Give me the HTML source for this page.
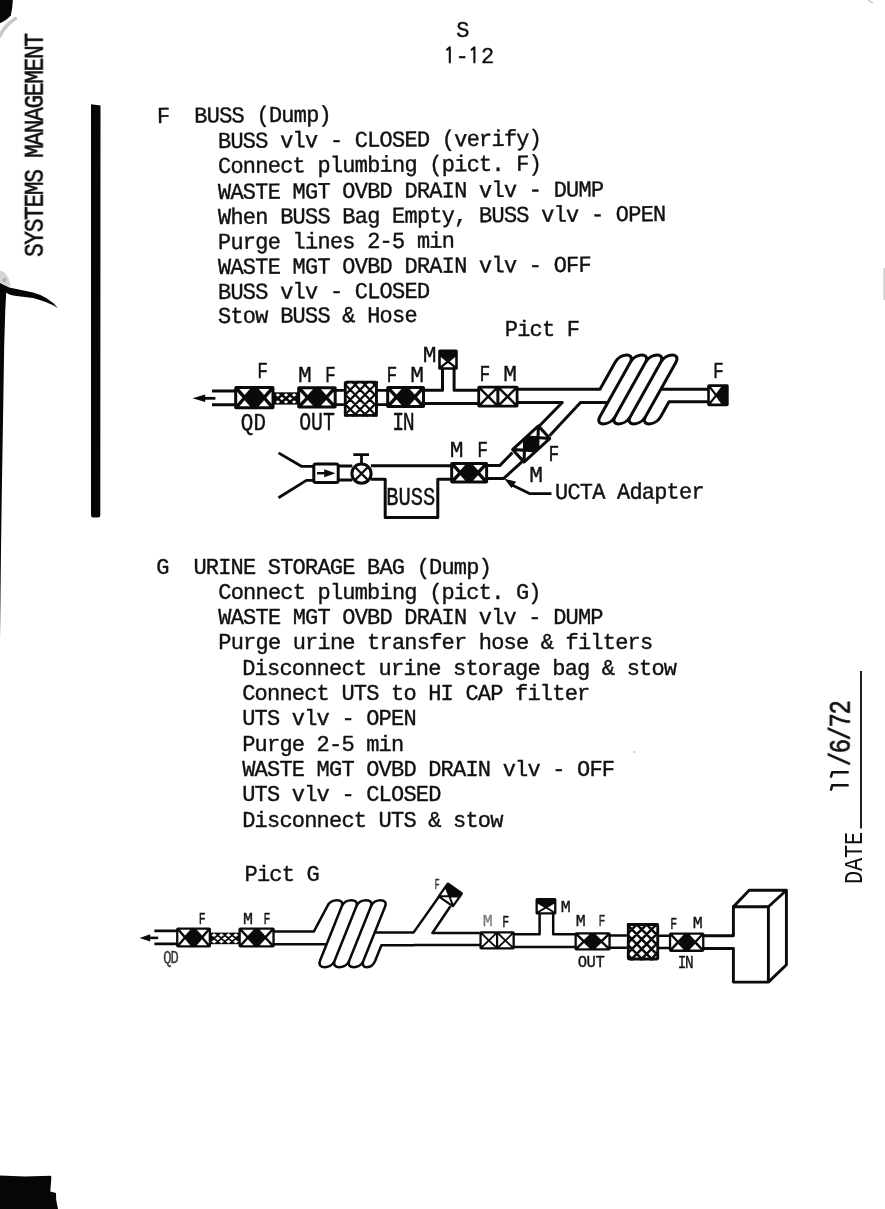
<!DOCTYPE html>
<html>
<head>
<meta charset="utf-8">
<title>S 1-12</title>
<style>
html,body{margin:0;padding:0;background:#fff;}
body{width:885px;height:1209px;position:relative;overflow:hidden;font-family:"Liberation Mono",monospace;color:#111;}
.t{position:absolute;white-space:pre;font-family:"Liberation Mono",monospace;font-size:22px;letter-spacing:-0.8px;line-height:25px;height:25px;color:#111;-webkit-text-stroke:0.38px #111;transform-origin:0 18.3px;transform:scaleY(1.04);}
.v{will-change:transform;position:absolute;white-space:pre;font-family:"Liberation Mono",monospace;transform-origin:0 0;transform:rotate(-90deg);color:#111;}
svg{position:absolute;left:0;top:0;will-change:transform;}
.lb{font-family:"Liberation Mono",monospace;fill:#111;stroke:#111;stroke-width:0.35px;}
</style>
</head>
<body>

<div id="txt" style="position:absolute;left:0;top:0;width:885px;height:1209px;will-change:transform;">
<!-- page header -->
<div class="t" style="left:456.3px;top:19.3px;">S</div>
<div class="t" style="left:442.8px;top:44.9px;letter-spacing:-0.5px;"> - 2</div>

<!-- section F -->
<div class="t" style="left:157.2px;top:104.5px;letter-spacing:-0.77px;transform:rotate(-0.46deg) scaleY(1.04);">F  BUSS (Dump)</div>
<div class="t" style="left:218.3px;top:129.7px;letter-spacing:-0.77px;transform:rotate(-0.44deg) scaleY(1.04);">BUSS vlv - CLOSED (verify)</div>
<div class="t" style="left:218.3px;top:154.5px;letter-spacing:-0.77px;transform:rotate(-0.42deg) scaleY(1.04);">Connect plumbing (pict. F)</div>
<div class="t" style="left:218.3px;top:180.9px;letter-spacing:-0.77px;transform:rotate(-0.40deg) scaleY(1.04);">WASTE MGT OVBD DRAIN vlv - DUMP</div>
<div class="t" style="left:218.3px;top:206.0px;letter-spacing:-0.77px;transform:rotate(-0.38deg) scaleY(1.04);">When BUSS Bag Empty, BUSS vlv - OPEN</div>
<div class="t" style="left:218.3px;top:230.5px;letter-spacing:-0.77px;transform:rotate(-0.36deg) scaleY(1.04);">Purge lines 2-5 min</div>
<div class="t" style="left:218.3px;top:255.7px;letter-spacing:-0.77px;transform:rotate(-0.34deg) scaleY(1.04);">WASTE MGT OVBD DRAIN vlv - OFF</div>
<div class="t" style="left:218.3px;top:280.5px;letter-spacing:-0.77px;transform:rotate(-0.32deg) scaleY(1.04);">BUSS vlv - CLOSED</div>
<div class="t" style="left:218.3px;top:305.2px;letter-spacing:-0.77px;transform:rotate(-0.30deg) scaleY(1.04);">Stow BUSS &amp; Hose</div>
<div class="t" style="left:504.8px;top:317.9px;">Pict F</div>
<div class="t" style="left:555.3px;top:481.0px;transform:rotate(-0.2deg) scaleY(1.04);">UCTA Adapter</div>

<!-- section G -->
<div class="t" style="left:156.2px;top:555.5px;">G  URINE STORAGE BAG (Dump)</div>
<div class="t" style="left:218.3px;top:580.8px;">Connect plumbing (pict. G)</div>
<div class="t" style="left:218.3px;top:606.1px;">WASTE MGT OVBD DRAIN vlv - DUMP</div>
<div class="t" style="left:218.3px;top:631.4px;">Purge urine transfer hose &amp; filters</div>
<div class="t" style="left:242.2px;top:656.7px;">Disconnect urine storage bag &amp; stow</div>
<div class="t" style="left:242.2px;top:682.0px;">Connect UTS to HI CAP filter</div>
<div class="t" style="left:242.2px;top:707.3px;">UTS vlv - OPEN</div>
<div class="t" style="left:242.2px;top:732.6px;">Purge 2-5 min</div>
<div class="t" style="left:242.2px;top:757.9px;">WASTE MGT OVBD DRAIN vlv - OFF</div>
<div class="t" style="left:242.2px;top:783.2px;">UTS vlv - CLOSED</div>
<div class="t" style="left:242.2px;top:808.5px;">Disconnect UTS &amp; stow</div>
<div class="t" style="left:244.5px;top:862.6px;">Pict G</div>

<!-- rotated margin text -->
<div class="v" style="left:20.6px;top:256.6px;font-size:23px;letter-spacing:-1.43px;line-height:25px;-webkit-text-stroke:0.45px #111;transform:rotate(-90deg) scaleY(1.19);">SYSTEMS MANAGEMENT</div>
<div class="v" style="left:840.7px;top:883.7px;font-size:22px;letter-spacing:-0.2px;line-height:25px;transform:rotate(-90deg) scaleY(1.16);">DATE</div>
<div class="v" style="left:827.4px;top:792.3px;font-size:24px;letter-spacing:-1.5px;line-height:26px;-webkit-text-stroke:0.55px #111;transform:rotate(-90deg) scaleY(1.21);">  /6/72</div>
</div>

<svg width="885" height="1209" viewBox="0 0 885 1209">
  <!-- scan artifacts -->
  <g id="artifacts" fill="#060606" stroke="none">
    <path d="M0,0 L12.8,0 L12.2,8 L10.8,15.5 Q7,20 0,23.2 Z"/>
    <path d="M15.5,18.5 Q5,25 0,36" fill="none" stroke="#c9c9c9" stroke-width="3.5" stroke-linecap="round"/>
    <path d="M0,270.5 L4,272 Q9,276 11,287 L6,286 L0,283 Z" fill="#d6d6d6"/>
    <circle cx="4.5" cy="280" r="2.2" fill="#b5b5b5"/>
    <path d="M868,0 L873,3" fill="none" stroke="#d0d0d0" stroke-width="1.6"/>
    <rect x="883.2" y="268" width="1.8" height="32" fill="#d2d2d2"/>
    <circle cx="634.5" cy="752" r="0.9" fill="#bdbdbd"/>
    <path d="M91,104.2 L100.5,105.6 L100.3,515 Q100.3,517.5 98,517.5 L93,517.5 Q91,517.5 91,515 Z"/>
    <path d="M0,283 L6,286 Q10,288 14,288.5 L33,292.6 Q48,296.5 57.9,307.9 Q47,301.5 33,298 L16.5,296 Q9,295 6.2,292.5 L5.3,310 L4.2,345 L3,420 L2,480 L1,550 L0,640 Z"/>
    <path d="M0,1175.6 L25,1176.6 L50.5,1175.8 Q51.6,1176 51.3,1178 L50.3,1191.5 L56,1193 L56.2,1200 L58,1209 L0,1209 Z"/>
    <rect x="860.1" y="671" width="1.8" height="157.5"/>
    <path d="M847.7,785.3 L832.2,785.3 L831,789.6 M847.7,772.3 L832.2,772.3 L831,776.6" fill="none" stroke="#111" stroke-width="2.5" stroke-linejoin="round" stroke-linecap="round"/>
      <path d="M449.8,63.2 V47.4 L446.4,50.2 M474.4,63.2 V47.4 L471,50.2" fill="none" stroke="#111" stroke-width="2.1" stroke-linejoin="round" stroke-linecap="butt"/>
  </g>



















<!--DIAGSTART-->
<g id="diagF">
<polygon points="192.4,398.3 205.2,394.4 205.2,402" fill="#0a0a0a"/>
<path d="M204,398.3 H215.4" fill="none" stroke="#0a0a0a" stroke-width="2.8" stroke-linejoin="round" stroke-linecap="butt" />
<path d="M212,391 H235 M212,404.7 H235" fill="none" stroke="#0a0a0a" stroke-width="2.9" stroke-linejoin="round" stroke-linecap="butt" />
<rect x="234.2" y="386.1" width="40.3" height="23.2" rx="1.8" fill="#0a0a0a"/>
<polygon points="239.4,389.1 249.9,389.1 244.6,395.1" fill="#fff"/>
<polygon points="239.4,406.3 249.9,406.3 244.6,400.3" fill="#fff"/>
<polygon points="237.2,391.7 237.2,403.7 242.4,397.7" fill="#fff"/>
<polygon points="258.8,389.1 269.3,389.1 264.1,395.1" fill="#fff"/>
<polygon points="258.8,406.3 269.3,406.3 264.1,400.3" fill="#fff"/>
<polygon points="271.5,391.7 271.5,403.7 266.3,397.7" fill="#fff"/>
<rect x="274" y="392.3" width="24" height="12.3" fill="#0a0a0a"/>
<polygon points="275.7,395 277.9,393.3 280.1,395 277.9,396.7" fill="#fff"/>
<polygon points="275.7,401.9 277.9,400.2 280.1,401.9 277.9,403.6" fill="#fff"/>
<polygon points="283.8,395 286,393.3 288.2,395 286,396.7" fill="#fff"/>
<polygon points="283.8,401.9 286,400.2 288.2,401.9 286,403.6" fill="#fff"/>
<polygon points="291.9,395 294.1,393.3 296.3,395 294.1,396.7" fill="#fff"/>
<polygon points="291.9,401.9 294.1,400.2 296.3,401.9 294.1,403.6" fill="#fff"/>
<polygon points="279.8,398.5 281.9,396.8 284.1,398.5 281.9,400.2" fill="#fff"/>
<polygon points="287.9,398.5 290.1,396.8 292.2,398.5 290.1,400.2" fill="#fff"/>
<rect x="297.2" y="386.2" width="39.5" height="22.4" rx="1.8" fill="#0a0a0a"/>
<polygon points="302.5,389.2 312.9,389.2 307.7,394.9" fill="#fff"/>
<polygon points="302.5,405.6 312.9,405.6 307.7,399.9" fill="#fff"/>
<polygon points="300.2,391.7 300.2,403.1 305.4,397.4" fill="#fff"/>
<polygon points="321,389.2 331.4,389.2 326.2,394.9" fill="#fff"/>
<polygon points="321,405.6 331.4,405.6 326.2,399.9" fill="#fff"/>
<polygon points="333.7,391.7 333.7,403.1 328.5,397.4" fill="#fff"/>
<path d="M336,390.3 H344.5 M336,404.6 H344.5" fill="none" stroke="#0a0a0a" stroke-width="2.7" stroke-linejoin="round" stroke-linecap="butt" />
<clipPath id="hf"><rect x="343.9" y="380.8" width="33.9" height="36"/></clipPath>
<rect x="343.9" y="380.8" width="33.9" height="36" fill="#fff"/>
<path d="M292.3,380.8 l36,36 M302.1,380.8 l36,36 M311.9,380.8 l36,36 M321.7,380.8 l36,36 M331.5,380.8 l36,36 M341.3,380.8 l36,36 M351.1,380.8 l36,36 M360.9,380.8 l36,36 M370.7,380.8 l36,36 M380.5,380.8 l36,36 M293.9,416.8 l36,-36 M303.7,416.8 l36,-36 M313.5,416.8 l36,-36 M323.3,416.8 l36,-36 M333.1,416.8 l36,-36 M342.9,416.8 l36,-36 M352.7,416.8 l36,-36 M362.5,416.8 l36,-36 M372.3,416.8 l36,-36 M382.1,416.8 l36,-36" stroke="#0a0a0a" stroke-width="2.2" fill="none" clip-path="url(#hf)"/>
<rect x="345.3" y="382.2" width="31.1" height="33.2" rx="1.2" fill="none" stroke="#0a0a0a" stroke-width="2.8"/>
<path d="M377,390.3 H387 M377,404.6 H387" fill="none" stroke="#0a0a0a" stroke-width="2.7" stroke-linejoin="round" stroke-linecap="butt" />
<rect x="386.2" y="386.1" width="38.8" height="21.9" rx="1.8" fill="#0a0a0a"/>
<polygon points="391.5,389.1 401.5,389.1 396.5,394.5" fill="#fff"/>
<polygon points="391.5,405 401.5,405 396.5,399.6" fill="#fff"/>
<polygon points="389.2,391.6 389.2,402.5 394.2,397.1" fill="#fff"/>
<polygon points="409.7,389.1 419.7,389.1 414.7,394.5" fill="#fff"/>
<polygon points="409.7,405 419.7,405 414.7,399.6" fill="#fff"/>
<polygon points="422,391.6 422,402.5 417,397.1" fill="#fff"/>
<path d="M424,390.2 H442.5 V369 M454.1,369 V390.2 H478 M424,403.6 H478" fill="none" stroke="#0a0a0a" stroke-width="3" stroke-linejoin="round" stroke-linecap="butt" />
<rect x="438.2" y="349.5" width="19.6" height="20.3" rx="1.6" fill="#0a0a0a"/>
<polygon points="442.6,367.2 453.4,367.2 448,362.9" fill="#fff"/>
<polygon points="440.8,357.1 440.8,365.8 446.2,361.5" fill="#fff"/>
<polygon points="455.2,357.1 455.2,365.8 449.8,361.5" fill="#fff"/>
<rect x="477.3" y="385.8" width="41.2" height="21.7" rx="1.8" fill="#0a0a0a"/>
<polygon points="481.8,388.6 494.7,388.6 488.2,395" fill="#fff"/>
<polygon points="481.8,404.7 494.7,404.7 488.2,398.3" fill="#fff"/>
<polygon points="480.1,390.3 480.1,403 486.5,396.6" fill="#fff"/>
<polygon points="496.4,390.3 496.4,403 490,396.6" fill="#fff"/>
<polygon points="501.1,388.6 514,388.6 507.6,395" fill="#fff"/>
<polygon points="501.1,404.7 514,404.7 507.6,398.3" fill="#fff"/>
<polygon points="499.4,390.3 499.4,403 505.8,396.6" fill="#fff"/>
<polygon points="515.7,390.3 515.7,403 509.3,396.6" fill="#fff"/>
<path d="M518,389.2 L600,389.2 L615,362.4 C620.5,352.6 635.7,352.6 630.2,362.4 L600,416.4 M630.2,362.4 C635.7,352.6 650.9,352.6 645.4,362.4 L615.2,416.4 M645.4,362.4 C650.9,352.6 666.1,352.6 660.6,362.4 L630.4,416.4 M660.6,362.4 C666.1,352.6 681.3,352.6 675.8,362.4 L645.6,416.4 M615.2,416.4 C609.6,426.4 594.4,426.4 600,416.4 M630.4,416.4 C624.8,426.4 609.6,426.4 615.2,416.4 M645.6,416.4 C640,426.4 624.8,426.4 630.4,416.4 M660.8,416.4 C655.2,426.4 640,426.4 645.6,416.4 M660.8,416.4 L669,401.7 L708,401.7 M660.7,389.3 L708,389.3 M518,402.4 L607.8,402.4" fill="none" stroke="#0a0a0a" stroke-width="3.0" stroke-linejoin="round" stroke-linecap="butt" />
<rect x="562.3" y="400" width="18.2" height="5" fill="#fff"/>
<path d="M560,402.5 H562.3 L538.3,427 M549.6,435.8 L580.5,402.4 H583" fill="none" stroke="#0a0a0a" stroke-width="3" stroke-linejoin="round" stroke-linecap="butt" />
<rect x="707.2" y="384.3" width="21.5" height="21.9" rx="1.6" fill="#0a0a0a"/>
<polygon points="711.2,386.9 721.1,386.9 716.2,393.4" fill="#fff"/>
<polygon points="711.2,403.6 721.1,403.6 716.2,397.1" fill="#fff"/>
<polygon points="709.8,388.7 709.8,401.8 714.8,395.2" fill="#fff"/>
<g transform="rotate(-42.5 531.2 444.0)">
<rect x="512.2" y="434" width="38" height="20" rx="1.8" fill="#0a0a0a"/>
<polygon points="517.3,437 526.6,437 522,441.8" fill="#fff"/>
<polygon points="517.3,451 526.6,451 522,446.2" fill="#fff"/>
<polygon points="515.2,439.2 515.2,448.8 519.9,444" fill="#fff"/>
<polygon points="535.8,437 545.1,437 540.5,441.8" fill="#fff"/>
<polygon points="535.8,451 545.1,451 540.5,446.2" fill="#fff"/>
<polygon points="547.2,439.2 547.2,448.8 542.5,444" fill="#fff"/>
</g>
<path d="M487.5,465.6 H499.7 L512.4,452.6 M487.5,478.4 H503.7 L522.4,461.4" fill="none" stroke="#0a0a0a" stroke-width="3" stroke-linejoin="round" stroke-linecap="butt" />
<rect x="450.2" y="461.9" width="37.9" height="21.7" rx="1.8" fill="#0a0a0a"/>
<polygon points="455.5,464.9 465.1,464.9 460.3,470.2" fill="#fff"/>
<polygon points="455.5,480.6 465.1,480.6 460.3,475.3" fill="#fff"/>
<polygon points="453.2,467.4 453.2,478.1 458,472.8" fill="#fff"/>
<polygon points="473.2,464.9 482.8,464.9 478,470.2" fill="#fff"/>
<polygon points="473.2,480.6 482.8,480.6 478,475.3" fill="#fff"/>
<polygon points="485.1,467.4 485.1,478.1 480.3,472.8" fill="#fff"/>
<path d="M371,465.7 H451 M371,479.3 H385.2 V517.4 H437.8 V479.3 H451" fill="none" stroke="#0a0a0a" stroke-width="3" stroke-linejoin="round" stroke-linecap="butt" />
<circle cx="361.5" cy="473.6" r="9.6" fill="#fff" stroke="#0a0a0a" stroke-width="3"/>
<path d="M355.2,467.3 L367.8,479.9 M367.8,467.3 L355.2,479.9" fill="none" stroke="#0a0a0a" stroke-width="2.3" stroke-linejoin="round" stroke-linecap="butt" />
<path d="M361.5,464 V455 M353.3,454.7 H369" fill="none" stroke="#0a0a0a" stroke-width="2.8" stroke-linejoin="round" stroke-linecap="butt" />
<path d="M339,466 H352.3 M339,480 H352.3" fill="none" stroke="#0a0a0a" stroke-width="2.9" stroke-linejoin="round" stroke-linecap="butt" />
<rect x="313.8" y="464" width="24.4" height="18.6" rx="2" fill="#fff" stroke="#0a0a0a" stroke-width="3"/>
<path d="M317,473.2 H327" fill="none" stroke="#0a0a0a" stroke-width="2.4" stroke-linejoin="round" stroke-linecap="butt" />
<polygon points="324.2,469.2 335.5,473.2 324.2,477.2" fill="#0a0a0a"/>
<path d="M278.5,452.9 L301.4,466.3 H313 M278.5,497.8 L306.4,480.4 H313" fill="none" stroke="#0a0a0a" stroke-width="2.8" stroke-linejoin="round" stroke-linecap="butt" stroke-linecap="round"/>
<path d="M510.5,484.2 L529.5,493.6 H551.5" fill="none" stroke="#0a0a0a" stroke-width="2.8" stroke-linejoin="round" stroke-linecap="butt" />
<polygon points="504.2,478.6 516.2,481.8 511.4,488" fill="#0a0a0a"/>
<text class="lb" text-anchor="middle" transform="translate(262.6,378) scale(0.82,1.02)" font-size="22" letter-spacing="0">F</text>
<text class="lb" text-anchor="middle" transform="translate(304.9,382.4) scale(1.04,1.02)" font-size="22" letter-spacing="0">M</text>
<text class="lb" text-anchor="middle" transform="translate(330.4,382) scale(0.82,1.02)" font-size="22" letter-spacing="0">F</text>
<text class="lb" text-anchor="middle" transform="translate(392,382.3) scale(0.82,1.02)" font-size="22" letter-spacing="0">F</text>
<text class="lb" text-anchor="middle" transform="translate(417.1,382) scale(1.04,1.02)" font-size="22" letter-spacing="0">M</text>
<text class="lb" text-anchor="middle" transform="translate(429.5,362) scale(1.04,1.02)" font-size="22" letter-spacing="0">M</text>
<text class="lb" text-anchor="middle" transform="translate(485,381) scale(0.82,1.02)" font-size="22" letter-spacing="0">F</text>
<text class="lb" text-anchor="middle" transform="translate(510.1,381) scale(1.04,1.02)" font-size="22" letter-spacing="0">M</text>
<text class="lb" text-anchor="middle" transform="translate(718.5,377.9) scale(0.82,1.02)" font-size="22" letter-spacing="0">F</text>
<text class="lb" text-anchor="middle" transform="translate(456.6,457.1) scale(1.04,1.02)" font-size="22" letter-spacing="0">M</text>
<text class="lb" text-anchor="middle" transform="translate(482.7,457.1) scale(0.82,1.02)" font-size="22" letter-spacing="0">F</text>
<text class="lb" text-anchor="middle" transform="translate(553.8,460.8) scale(0.82,1.02)" font-size="22" letter-spacing="0">F</text>
<text class="lb" text-anchor="middle" transform="translate(536.2,482) scale(1.04,1.02)" font-size="22" letter-spacing="0">M</text>
<text class="lb" text-anchor="middle" transform="translate(253.4,430.4) scale(0.95,1.1)" font-size="22" letter-spacing="0.2">QD</text>
<text class="lb" text-anchor="middle" transform="translate(317,429.8) scale(0.9,1.13)" font-size="22" letter-spacing="0">OUT</text>
<text class="lb" text-anchor="middle" transform="translate(402.8,429.8) scale(0.9,1.13)" font-size="22" letter-spacing="-1.5">IN</text>
<text class="lb" text-anchor="middle" transform="translate(410.7,505.4) scale(0.93,1.13)" font-size="22" letter-spacing="0">BUSS</text>
</g>
<g id="diagG">
<polygon points="139.6,937.9 150.2,934.2 150.2,941.6" fill="#0a0a0a"/>
<path d="M149.5,937.9 H158.2" fill="none" stroke="#0a0a0a" stroke-width="2.6" stroke-linejoin="round" stroke-linecap="butt" />
<path d="M154.4,930.9 H177 M154.4,943.9 H177" fill="none" stroke="#0a0a0a" stroke-width="2.6" stroke-linejoin="round" stroke-linecap="butt" />
<rect x="176.1" y="927.4" width="34.9" height="20.1" rx="1.8" fill="#0a0a0a"/>
<polygon points="180,929.7 190.2,929.7 185.1,935.6" fill="#fff"/>
<polygon points="180,945.2 190.2,945.2 185.1,939.3" fill="#fff"/>
<polygon points="178.4,931.5 178.4,943.4 183.5,937.5" fill="#fff"/>
<polygon points="196.9,929.7 207.1,929.7 202,935.6" fill="#fff"/>
<polygon points="196.9,945.2 207.1,945.2 202,939.3" fill="#fff"/>
<polygon points="208.7,931.5 208.7,943.4 203.6,937.5" fill="#fff"/>
<rect x="210.5" y="932.6" width="28.9" height="11.6" fill="#0a0a0a"/>
<polygon points="211.5,935.2 214.1,933.3 216.7,935.2 214.1,937.1" fill="#fff"/>
<polygon points="211.5,941.6 214.1,939.7 216.7,941.6 214.1,943.5" fill="#fff"/>
<polygon points="218.8,935.2 221.3,933.3 223.9,935.2 221.3,937.1" fill="#fff"/>
<polygon points="218.8,941.6 221.3,939.7 223.9,941.6 221.3,943.5" fill="#fff"/>
<polygon points="225.9,935.2 228.5,933.3 231.1,935.2 228.5,937.1" fill="#fff"/>
<polygon points="225.9,941.6 228.5,939.7 231.1,941.6 228.5,943.5" fill="#fff"/>
<polygon points="233.2,935.2 235.8,933.3 238.3,935.2 235.8,937.1" fill="#fff"/>
<polygon points="233.2,941.6 235.8,939.7 238.3,941.6 235.8,943.5" fill="#fff"/>
<polygon points="215.2,938.4 217.8,936.5 220.3,938.4 217.8,940.3" fill="#fff"/>
<polygon points="222.3,938.4 224.9,936.5 227.5,938.4 224.9,940.3" fill="#fff"/>
<polygon points="229.5,938.4 232.1,936.5 234.7,938.4 232.1,940.3" fill="#fff"/>
<rect x="238.5" y="927.4" width="36.2" height="20.1" rx="1.8" fill="#0a0a0a"/>
<polygon points="242.4,929.7 253.5,929.7 247.9,935.7" fill="#fff"/>
<polygon points="242.4,945.2 253.5,945.2 247.9,939.2" fill="#fff"/>
<polygon points="240.8,931.5 240.8,943.4 246.3,937.5" fill="#fff"/>
<polygon points="259.7,929.7 270.8,929.7 265.2,935.7" fill="#fff"/>
<polygon points="259.7,945.2 270.8,945.2 265.2,939.2" fill="#fff"/>
<polygon points="272.4,931.5 272.4,943.4 266.9,937.5" fill="#fff"/>
<path d="M274,931.6 L313.8,931.6 L327.4,906.2 C330.6,898.2 345,898.2 341.8,906.2 L320,960.8 M341.8,906.2 C345,898.2 359.6,898.2 356.4,906.2 L334.6,960.8 M356.4,906.2 C359.6,898.2 374.2,898.2 371,906.2 L349.2,960.8 M371,906.2 C374.2,898.2 388.4,898.2 385.2,906.2 L363.4,960.8 M334.6,960.8 C331.1,969.4 316.5,969.4 320,960.8 M349.2,960.8 C345.7,969.4 331.1,969.4 334.6,960.8 M363.4,960.8 C359.9,969.4 345.7,969.4 349.2,960.8 M375.2,960.8 C371.7,969.4 359.9,969.4 363.4,960.8 M375.2,960.8 L381.4,945.2 L414.2,945.2 M374.6,932.6 L414.2,932.6 M274,944.2 L326.6,944.2" fill="none" stroke="#0a0a0a" stroke-width="2.5" stroke-linejoin="round" stroke-linecap="butt" />
<path d="M414,945 H480" fill="none" stroke="#0a0a0a" stroke-width="2.5" stroke-linejoin="round" stroke-linecap="butt" />
<path d="M413.5,932.6 L439.2,896.2 M479.8,933 H432.4 L450.4,906.2" fill="none" stroke="#0a0a0a" stroke-width="2.5" stroke-linejoin="round" stroke-linecap="butt" />
<g transform="rotate(-55 450.4 894.9)">
<rect x="441.4" y="885.1" width="18" height="19.6" rx="1.6" fill="#0a0a0a"/>
<polygon points="444.8,887.3 452.4,887.3 448.6,893.1" fill="#fff"/>
<polygon points="444.8,902.5 452.4,902.5 448.6,896.7" fill="#fff"/>
<polygon points="443.6,889.1 443.6,900.7 447.4,894.9" fill="#fff"/>
</g>
<rect x="479.4" y="931.3" width="35.4" height="18.3" rx="1.8" fill="#0a0a0a"/>
<polygon points="483,933.6 494.7,933.6 488.9,939.2" fill="#fff"/>
<polygon points="483,947.3 494.7,947.3 488.9,941.7" fill="#fff"/>
<polygon points="481.7,934.8 481.7,946.1 487.5,940.5" fill="#fff"/>
<polygon points="496,934.8 496,946.1 490.2,940.5" fill="#fff"/>
<polygon points="499.5,933.6 511.2,933.6 505.4,939.2" fill="#fff"/>
<polygon points="499.5,947.3 511.2,947.3 505.4,941.7" fill="#fff"/>
<polygon points="498.2,934.8 498.2,946.1 504,940.5" fill="#fff"/>
<polygon points="512.5,934.8 512.5,946.1 506.7,940.5" fill="#fff"/>
<path d="M514,934.2 H539.6 V914 M553.2,914 V934.2 H575 M514,947 H575" fill="none" stroke="#0a0a0a" stroke-width="2.5" stroke-linejoin="round" stroke-linecap="butt" />
<rect x="535.5" y="898.1" width="20.9" height="16.5" rx="1.6" fill="#0a0a0a"/>
<polygon points="539.7,912.3 552.2,912.3 546,908.6" fill="#fff"/>
<polygon points="537.8,903.7 537.8,911.2 544.1,907.5" fill="#fff"/>
<polygon points="554.1,903.7 554.1,911.2 547.8,907.5" fill="#fff"/>
<rect x="574.5" y="932.2" width="36.2" height="18.3" rx="1.8" fill="#0a0a0a"/>
<polygon points="578.5,934.5 589.4,934.5 584,939.7" fill="#fff"/>
<polygon points="578.5,948.2 589.4,948.2 584,943" fill="#fff"/>
<polygon points="576.8,936.2 576.8,946.5 582.2,941.4" fill="#fff"/>
<polygon points="595.8,934.5 606.7,934.5 601.2,939.7" fill="#fff"/>
<polygon points="595.8,948.2 606.7,948.2 601.2,943" fill="#fff"/>
<polygon points="608.4,936.2 608.4,946.5 603,941.4" fill="#fff"/>
<path d="M610,935.6 H627.5 M610,947.8 H627.5" fill="none" stroke="#0a0a0a" stroke-width="2.5" stroke-linejoin="round" stroke-linecap="butt" />
<clipPath id="hg"><rect x="626.9" y="923.1" width="32.2" height="37.3"/></clipPath>
<rect x="626.9" y="923.1" width="32.2" height="37.3" fill="#fff"/>
<path d="M576.6,923.1 l37.3,37.3 M586.4,923.1 l37.3,37.3 M596.2,923.1 l37.3,37.3 M606,923.1 l37.3,37.3 M615.8,923.1 l37.3,37.3 M625.6,923.1 l37.3,37.3 M635.4,923.1 l37.3,37.3 M645.2,923.1 l37.3,37.3 M655,923.1 l37.3,37.3 M664.8,923.1 l37.3,37.3 M581.3,960.4 l37.3,-37.3 M591.1,960.4 l37.3,-37.3 M600.9,960.4 l37.3,-37.3 M610.7,960.4 l37.3,-37.3 M620.5,960.4 l37.3,-37.3 M630.3,960.4 l37.3,-37.3 M640.1,960.4 l37.3,-37.3 M649.9,960.4 l37.3,-37.3 M659.7,960.4 l37.3,-37.3" stroke="#0a0a0a" stroke-width="2.5" fill="none" clip-path="url(#hg)"/>
<rect x="628.3" y="924.5" width="29.4" height="34.5" rx="1.2" fill="none" stroke="#0a0a0a" stroke-width="2.8"/>
<path d="M658.5,935.8 H669.5 M658.5,948 H669.5" fill="none" stroke="#0a0a0a" stroke-width="2.5" stroke-linejoin="round" stroke-linecap="butt" />
<rect x="668.9" y="932.4" width="35.5" height="19.5" rx="1.8" fill="#0a0a0a"/>
<polygon points="672.8,934.7 683.5,934.7 678.2,940.4" fill="#fff"/>
<polygon points="672.8,949.6 683.5,949.6 678.2,943.9" fill="#fff"/>
<polygon points="671.2,936.5 671.2,947.8 676.5,942.1" fill="#fff"/>
<polygon points="689.8,934.7 700.5,934.7 695.1,940.4" fill="#fff"/>
<polygon points="689.8,949.6 700.5,949.6 695.1,943.9" fill="#fff"/>
<polygon points="702.1,936.5 702.1,947.8 696.8,942.1" fill="#fff"/>
<path d="M704,935.8 H733.4 V906.7 H768.4 V982.1 H733.4 V948.5 H704" fill="none" stroke="#0a0a0a" stroke-width="2.9" stroke-linejoin="round" stroke-linecap="butt" />
<path d="M733.4,906.7 L749.2,890.3 H786.4 L768.4,906.7 M786.4,890.3 V964.7 L768.4,982.1" fill="none" stroke="#0a0a0a" stroke-width="2.9" stroke-linejoin="round" stroke-linecap="butt" />
<text class="lb" text-anchor="middle" transform="translate(202.3,924.4) scale(0.72,1.04)" font-size="16" letter-spacing="0" opacity="1">F</text>
<text class="lb" text-anchor="middle" transform="translate(248,924.4) scale(1.04,1.04)" font-size="16" letter-spacing="0" opacity="1">M</text>
<text class="lb" text-anchor="middle" transform="translate(267,924.4) scale(0.72,1.04)" font-size="16" letter-spacing="0" opacity="1">F</text>
<text class="lb" text-anchor="middle" transform="translate(487.8,925.6) scale(1.04,1.04)" font-size="16" letter-spacing="0" opacity="0.55">M</text>
<text class="lb" text-anchor="middle" transform="translate(505.7,926.6) scale(0.72,1.04)" font-size="16" letter-spacing="0" opacity="1">F</text>
<text class="lb" text-anchor="middle" transform="translate(565.8,911.6) scale(1.04,1.04)" font-size="16" letter-spacing="0" opacity="1">M</text>
<text class="lb" text-anchor="middle" transform="translate(580.7,926.1) scale(1.04,1.04)" font-size="16" letter-spacing="0" opacity="1">M</text>
<text class="lb" text-anchor="middle" transform="translate(602,926.1) scale(0.72,1.04)" font-size="16" letter-spacing="0" opacity="0.9">F</text>
<text class="lb" text-anchor="middle" transform="translate(673.7,928.6) scale(0.72,1.04)" font-size="16" letter-spacing="0" opacity="1">F</text>
<text class="lb" text-anchor="middle" transform="translate(697.7,928.1) scale(1.04,1.04)" font-size="16" letter-spacing="0" opacity="1">M</text>
<text class="lb" text-anchor="middle" transform="translate(437,889) scale(0.7,1.1)" font-size="12.5" letter-spacing="0" opacity="0.85">F</text>
<text class="lb" text-anchor="middle" transform="translate(170.6,962.6) scale(0.86,1.12)" font-size="16" letter-spacing="-1.0" opacity="0.85">QD</text>
<text class="lb" text-anchor="middle" transform="translate(591,966.8) scale(0.97,1.08)" font-size="16" letter-spacing="-0.5" opacity="1">OUT</text>
<text class="lb" text-anchor="middle" transform="translate(685.1,967.7) scale(0.9,1.1)" font-size="16" letter-spacing="-1.4" opacity="1">IN</text>
</g>
<!--DIAGEND-->
</svg>

</body>
</html>
